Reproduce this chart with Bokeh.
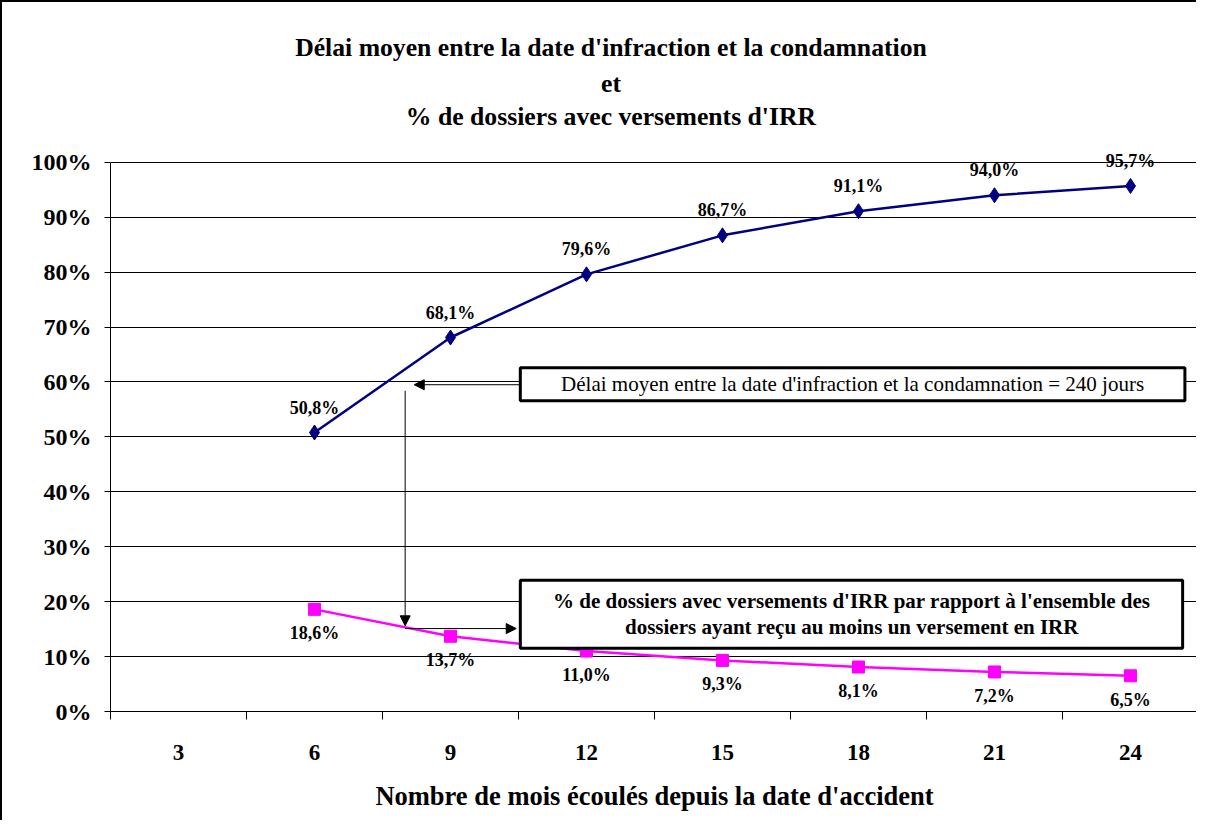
from bokeh.plotting import figure
from bokeh.models import (FixedTicker, Label, LabelSet, ColumnDataSource, BoxAnnotation,
                          Arrow, NormalHead, Range1d)
from bokeh.embed import file_html
from bokeh.resources import INLINE

# ---- data ----
months = [3, 6, 9, 12, 15, 18, 21, 24]
x_months = [6, 9, 12, 15, 18, 21, 24]
delai = [50.8, 68.1, 79.6, 86.7, 91.1, 94.0, 95.7]
irr = [18.6, 13.7, 11.0, 9.3, 8.1, 7.2, 6.5]
y_ticks = [0, 10, 20, 30, 40, 50, 60, 70, 80, 90, 100]
y_tick_labels = ["0%", "10%", "20%", "30%", "40%", "50%", "60%", "70%", "80%", "90%", "100%"]
x_tick_labels = ["3", "6", "9", "12", "15", "18", "21", "24"]

title_lines = ["Délai moyen entre la date d'infraction et la condamnation",
               "et",
               "% de dossiers avec versements d'IRR"]
x_title = "Nombre de mois écoulés depuis la date d'accident"
note1 = "Délai moyen entre la date d'infraction et la condamnation = 240 jours"
note2 = ["% de dossiers avec versements d'IRR par rapport à l'ensemble des",
         "dossiers ayant reçu au moins un versement en IRR"]


def fmt(v):
    return f"{v:.1f}".replace(".", ",") + "%"


FONT = "Liberation Serif"

src_b = ColumnDataSource(dict(x=x_months, y=delai, lab=[fmt(v) for v in delai]))
src_p = ColumnDataSource(dict(x=x_months, y=irr, lab=[fmt(v) for v in irr]))

p = figure(width=1196, height=820, output_backend="svg", toolbar_location=None,
           x_range=Range1d(1.5, 25.5), y_range=Range1d(0, 129.1),
           min_border_left=108, min_border_right=0, min_border_top=0, min_border_bottom=111)
p.styles = {"border-left": "2px solid black", "border-top": "2px solid black"}
p.background_fill_color = "white"
p.border_fill_color = "white"
p.outline_line_color = None

# axes
p.xaxis.ticker = FixedTicker(ticks=months, minor_ticks=[1.5 + 3 * i for i in range(9)])
p.xaxis.major_label_overrides = {m: l for m, l in zip(months, x_tick_labels)}
p.xaxis.major_tick_out = 0
p.xaxis.major_tick_in = 0
p.xaxis.minor_tick_out = 8
p.xaxis.minor_tick_in = 0
p.xaxis.minor_tick_line_color = "black"
p.xaxis.axis_line_color = "black"
p.xaxis.major_label_standoff = 25
p.xaxis.major_label_text_font = FONT
p.xaxis.major_label_text_font_style = "bold"
p.xaxis.major_label_text_font_size = "23px"
p.xaxis.major_label_text_color = "black"
p.xaxis.axis_label = x_title
p.xaxis.axis_label_text_font = FONT
p.xaxis.axis_label_text_font_style = "bold"
p.xaxis.axis_label_text_font_size = "26.5px"
p.xaxis.axis_label_text_color = "black"
p.xaxis.axis_label_standoff = 18

p.yaxis.ticker = FixedTicker(ticks=y_ticks, minor_ticks=[])
p.yaxis.bounds = (0, 100)
p.yaxis.major_label_overrides = {t: l for t, l in zip(y_ticks, y_tick_labels)}
p.yaxis.major_tick_out = 6
p.yaxis.major_tick_in = 0
p.yaxis.major_tick_line_color = "black"
p.yaxis.axis_line_color = "black"
p.yaxis.major_label_standoff = 13
p.yaxis.major_label_text_font = FONT
p.yaxis.major_label_text_font_style = "bold"
p.yaxis.major_label_text_font_size = "24px"
p.yaxis.major_label_text_color = "black"

p.xgrid.grid_line_color = None
p.ygrid.ticker = FixedTicker(ticks=y_ticks)
p.ygrid.grid_line_color = "black"
p.ygrid.grid_line_width = 1

# series
p.line("x", "y", source=src_b, line_color="#000080", line_width=2.5)
p.scatter("x", "y", source=src_b, marker="diamond", size=15, fill_color="#000080", line_color="#000080")
p.line("x", "y", source=src_p, line_color="#FF00FF", line_width=2.5)
p.scatter("x", "y", source=src_p, marker="square", size=12, fill_color="#FF00FF", line_color="#FF00FF")

p.add_layout(LabelSet(x="x", y="y", text="lab", source=src_b, y_offset=25,
                      text_align="center", text_baseline="middle",
                      text_font=FONT, text_font_style="bold", text_font_size="18px", text_color="black"))
p.add_layout(LabelSet(x="x", y="y", text="lab", source=src_p, y_offset=-24,
                      text_align="center", text_baseline="middle",
                      text_font=FONT, text_font_style="bold", text_font_size="18px", text_color="black"))

# title
for t, yy in zip(title_lines, [120.9, 114.4, 108.4]):
    p.add_layout(Label(x=12.54, y=yy, text=t, text_align="center", text_baseline="middle",
                       text_font=FONT, text_font_style="bold", text_font_size="25.7px", text_color="black"))

# annotation boxes
p.add_layout(BoxAnnotation(left=10.54, right=25.2, top=62.6, bottom=56.6,
                           fill_color="white", fill_alpha=1.0, line_color="black",
                           line_width=3, line_alpha=1.0, level="overlay"))
p.add_layout(Label(x=17.87, y=59.6, text=note1, text_align="center", text_baseline="middle",
                   text_font=FONT, text_font_size="21px", text_color="black", level="overlay"))

p.add_layout(BoxAnnotation(left=10.54, right=25.15, top=23.9, bottom=11.5,
                           fill_color="white", fill_alpha=1.0, line_color="black",
                           line_width=3, line_alpha=1.0, level="overlay"))
for t, yy in zip(note2, [20.2, 15.3]):
    p.add_layout(Label(x=17.85, y=yy, text=t, text_align="center", text_baseline="middle",
                       text_font=FONT, text_font_style="bold", text_font_size="21px",
                       text_color="black", level="overlay"))

# arrows
head = dict(size=10, fill_color="black", line_color="black")
p.add_layout(Arrow(end=NormalHead(**head), x_start=10.54, y_start=59.5, x_end=8.2, y_end=59.5,
                   line_color="black", line_width=1))
p.add_layout(Arrow(end=NormalHead(**head), x_start=8.0, y_start=58.4, x_end=8.0, y_end=15.6,
                   line_color="black", line_width=1))
p.add_layout(Arrow(end=NormalHead(**head), x_start=8.0, y_start=15.1, x_end=10.45, y_end=15.1,
                   line_color="black", line_width=1))

open("out.html", "w").write(file_html(p, INLINE))
